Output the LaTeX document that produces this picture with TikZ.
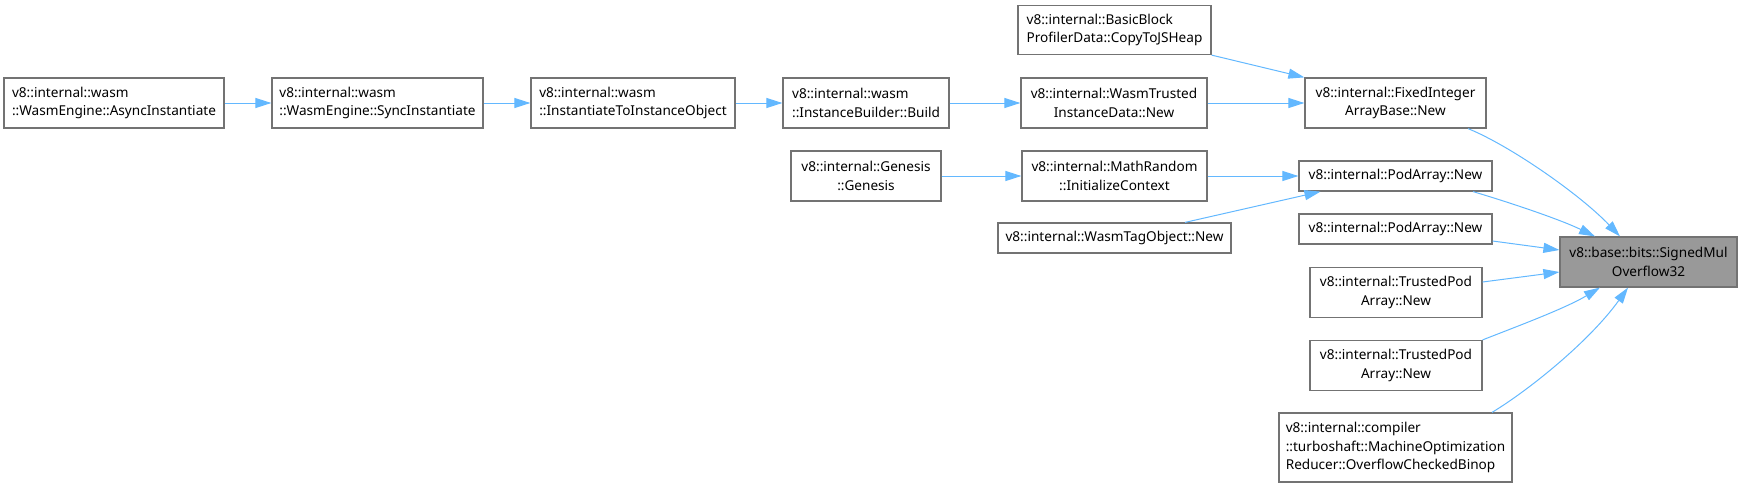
\documentclass[tikz,border=0pt]{standalone}
\usepackage{fontspec}
\setmainfont{Noto Sans}
\usetikzlibrary{arrows.meta,calc}
\definecolor{edgeblue}{RGB}{99,184,255}
\definecolor{boxline}{RGB}{115,115,115}
\definecolor{boxfill}{RGB}{153,153,153}

\begin{document}
\begin{tikzpicture}[x=0.5pt, y=-0.5pt,
  font=\fontsize{6.8}{9.35}\selectfont,
  fn/.style={draw=boxline, line width=0.6pt, fill=white, inner sep=0pt, minimum height=25pt},
  call/.style={edgeblue, line width=0.5pt, -{Triangle[length=8pt,width=5pt]}}]
\useasboundingbox (0,0) rectangle (1742,488);
% top row, wasm chain
\node[fn, minimum width=110pt, align=left] (async) at (114,103) {v8::internal::wasm\\::WasmEngine::AsyncInstantiate};
\node[fn, minimum width=105.5pt, align=left] (sync) at (377.5,103) {v8::internal::wasm\\::WasmEngine::SyncInstantiate};
\node[fn, minimum width=102pt, align=left] (inst) at (633,103) {v8::internal::wasm\\::InstantiateToInstanceObject};
\node[fn, minimum width=83pt, align=left] (build) at (866,103) {v8::internal::wasm\\::InstanceBuilder::Build};
\node[fn, minimum width=93pt, align=center] (trusted) at (1114,103) {v8::internal::WasmTrusted\\InstanceData::New};
\node[fn, minimum width=96.5pt, minimum height=24.5pt, align=left] (heap) at (1114.5,30) {v8::internal::BasicBlock\\ProfilerData::CopyToJSHeap};
\node[fn, minimum width=90.5pt, align=center] (fixed) at (1395.5,103) {v8::internal::FixedInteger\\ArrayBase::New};
% middle rows
\node[fn, minimum width=75pt, align=center] (genesis) at (866,176) {v8::internal::Genesis\\::Genesis};
\node[fn, minimum width=92.5pt, align=center] (mathrand) at (1114.5,176) {v8::internal::MathRandom\\::InitializeContext};
\node[fn, minimum width=96.5pt, minimum height=15pt] (podA) at (1395.5,176) {v8::internal::PodArray::New};
\node[fn, minimum width=116.5pt, minimum height=15pt] (tag) at (1114.5,238) {v8::internal::WasmTagObject::New};
\node[fn, minimum width=96.5pt, minimum height=15pt] (podB) at (1395.5,229) {v8::internal::PodArray::New};
\node[fn, minimum width=86pt, align=center] (tpodA) at (1396,292.5) {v8::internal::TrustedPod\\Array::New};
\node[fn, minimum width=86pt, align=center] (tpodB) at (1396,365.5) {v8::internal::TrustedPod\\Array::New};
\node[fn, minimum width=116.5pt, minimum height=34.5pt, align=left] (reducer) at (1395.5,447.5) {v8::internal::compiler\\::turboshaft::MachineOptimization\\Reducer::OverflowCheckedBinop};
% the function itself
\node[fn, fill=boxfill, minimum width=88.5pt, align=center] (smul) at (1648.5,262) {v8::base::bits::SignedMul\\Overflow32};
% calls
\draw[call] (async) -- (sync);
\draw[call] (sync) -- (inst);
\draw[call] (inst) -- (build);
\draw[call] (build) -- (trusted);
\draw[call] (trusted) -- (fixed);
\draw[call] (heap.south east) -- (fixed.north west);
\draw[call] (genesis) -- (mathrand);
\draw[call] (mathrand) -- (podA);
\draw[call] ($(tag.north)+(70.5,0)$) -- ($(podA.south)+(-75,0)$);
% calls into SignedMulOverflow32
\draw[call] ($(fixed.south)+(72.5,0)$) .. controls +(42,17) and +(-40,-42) .. ($(smul.north)+(-28.5,0)$);
\draw[call] ($(podA.south)+(77.5,0)$) .. controls +(37,11) and +(-35,-17) .. ($(smul.north)+(-53.5,0)$);
\draw[call] ($(podB.east)+(0,12)$) -- ($(smul.west)+(0,-12)$);
\draw[call] ($(tpodA.east)+(0,-10.5)$) -- ($(smul.west)+(0,10)$);
\draw[call] (tpodB.north east) .. controls +(33,-13) and +(-35,21) .. ($(smul.south)+(-48.5,0)$);
\draw[call] ($(reducer.north)+(96.5,0)$) .. controls +(38,-23) and +(-38,53) .. ($(smul.south)+(-20.5,0)$);
\end{tikzpicture}
\end{document}
